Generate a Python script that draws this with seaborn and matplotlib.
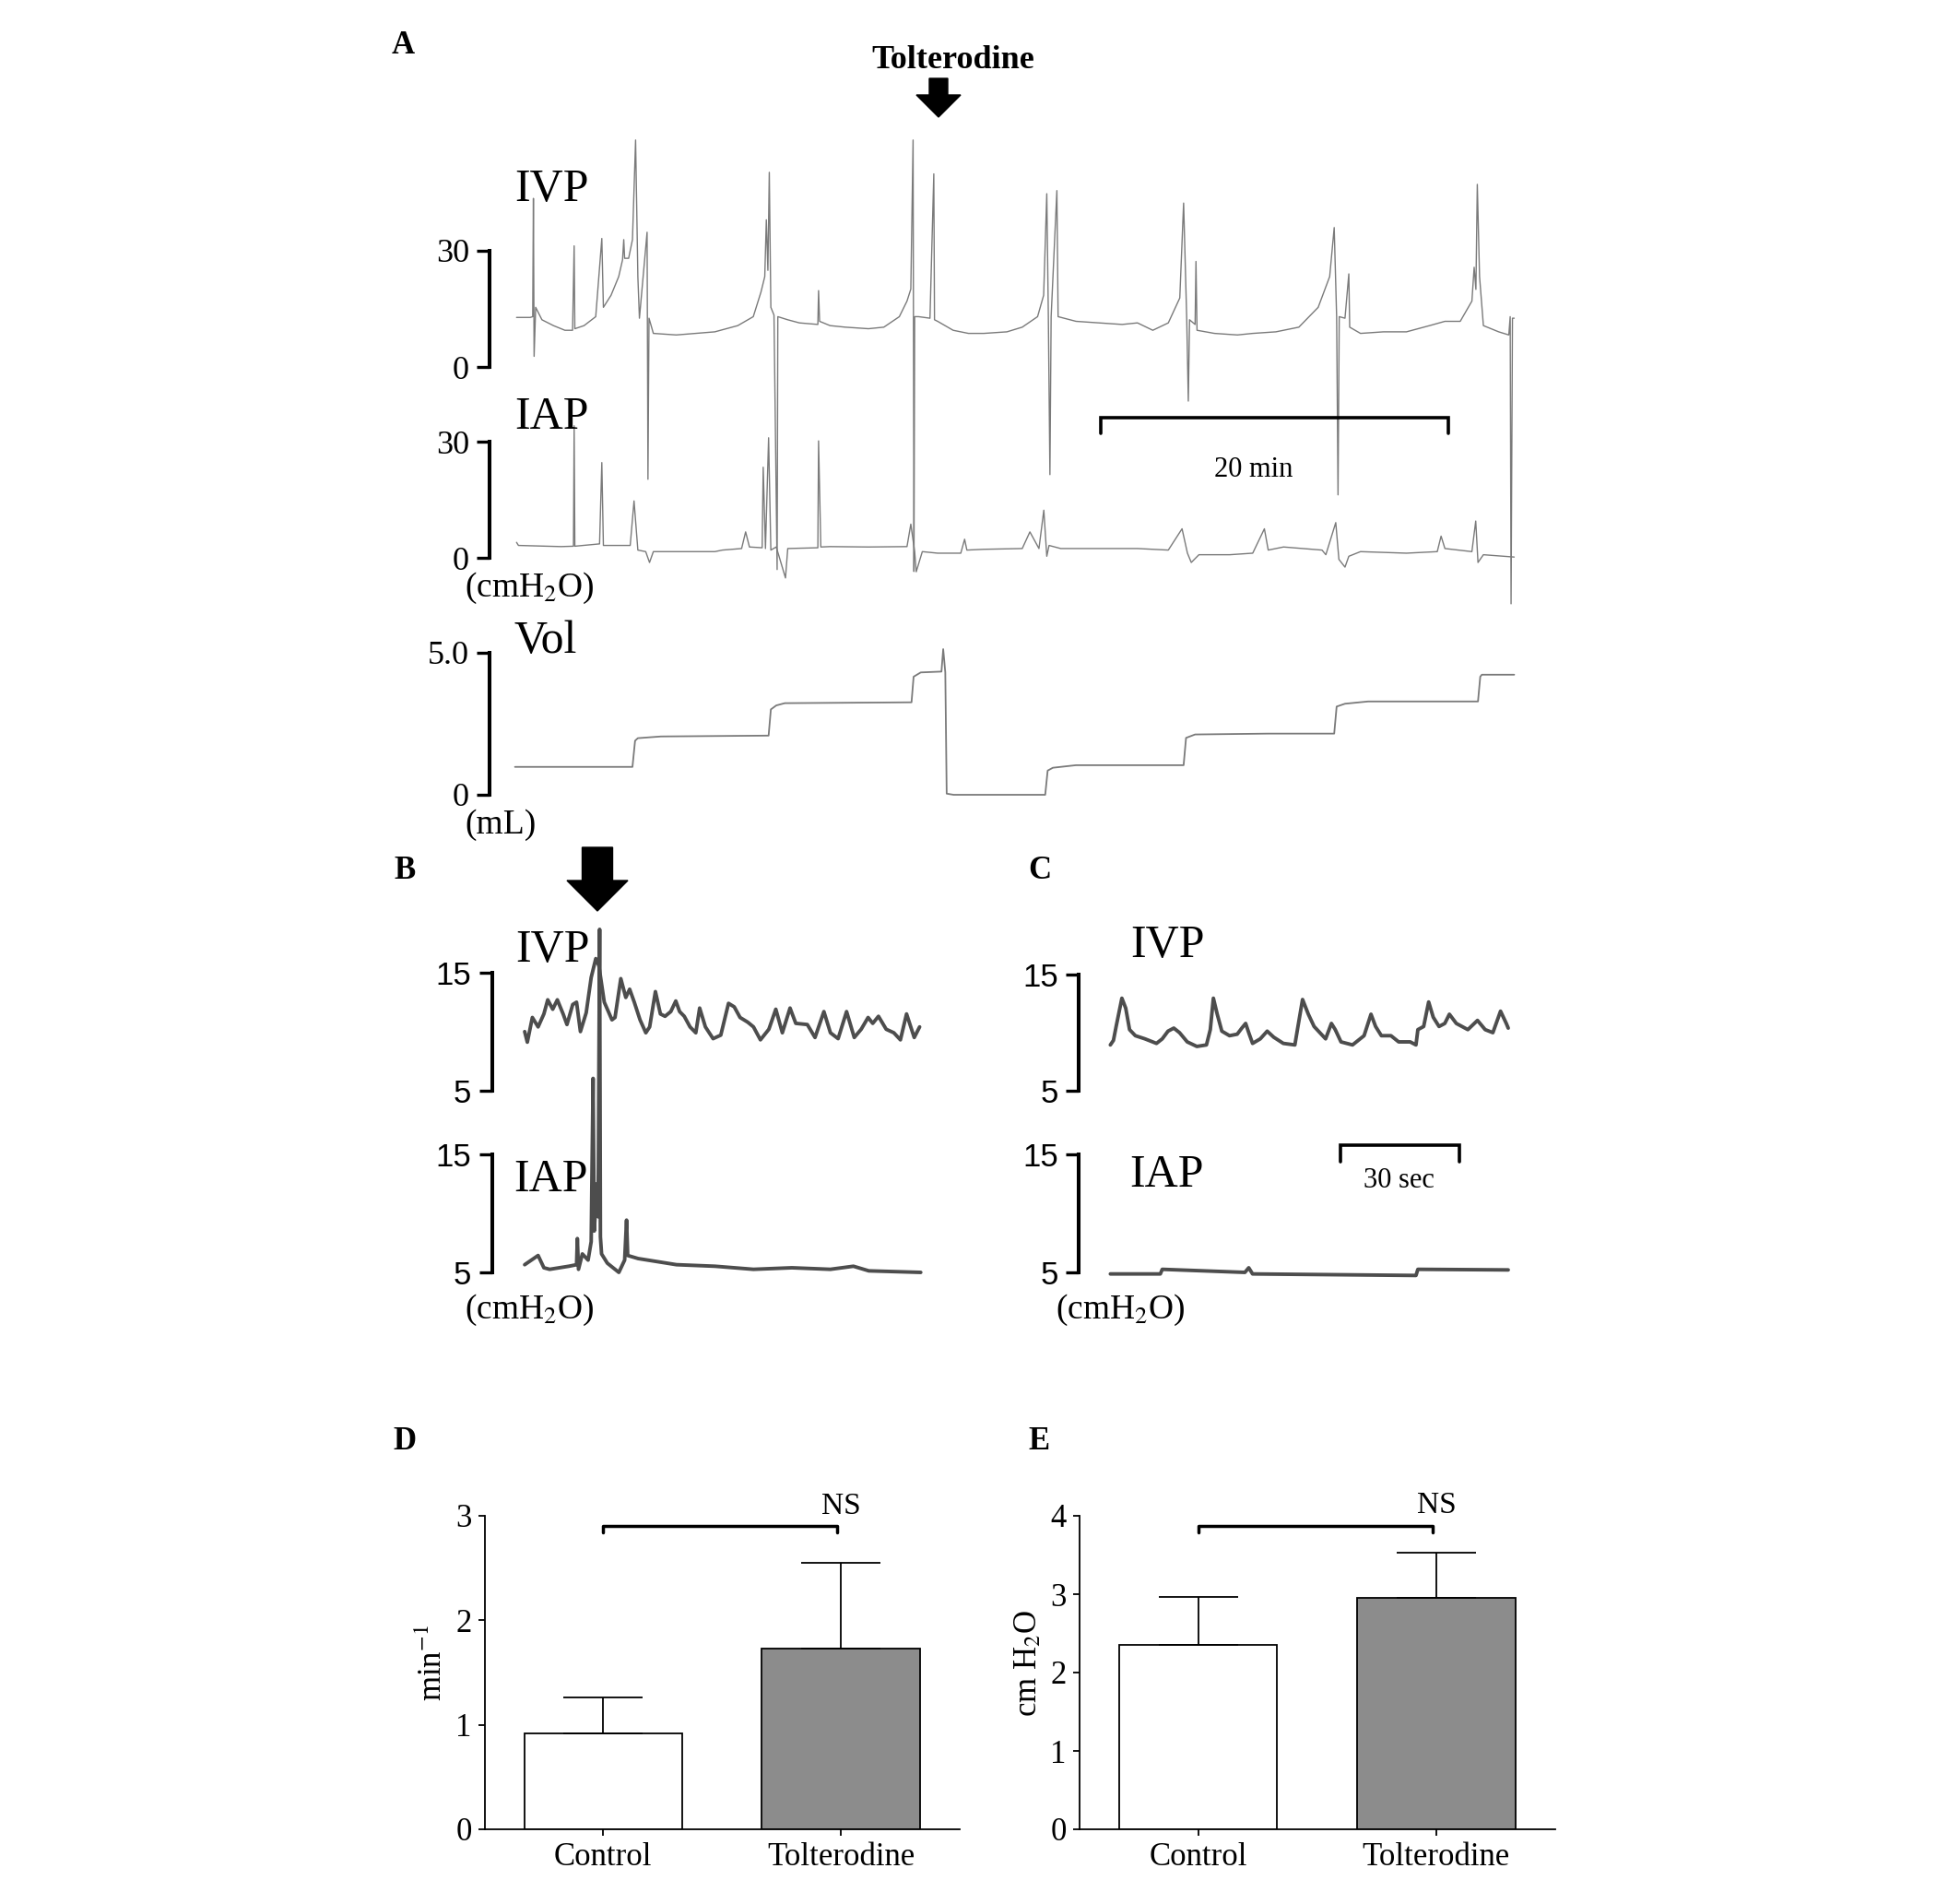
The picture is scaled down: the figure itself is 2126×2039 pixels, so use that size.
import matplotlib
matplotlib.use("Agg")
import matplotlib.pyplot as plt
from matplotlib.patches import Polygon
import seaborn as sns

sns.set_theme(style="ticks")
plt.rcParams["font.family"] = ["Liberation Serif", "DejaVu Serif"]
plt.rcParams["mathtext.fontset"] = "stix"
plt.rcParams["text.color"] = "black"
plt.rcParams["axes.labelcolor"] = "black"
plt.rcParams["xtick.color"] = "black"
plt.rcParams["ytick.color"] = "black"

W, H = 2126, 2039

# ---- Panel A: whole cystometry recording (time in min) ----
ivp_a_t = [0.09, 0.88, 1.02, 1.06, 1.10, 1.19, 1.55, 2.21, 2.87, 3.31, 3.40, 3.44, 3.97, 4.64, 4.99,
           5.08, 5.52, 5.96, 6.18, 6.25, 6.30, 6.53, 6.75, 6.93, 7.06, 7.15, 7.59, 7.64, 7.70, 7.95,
           9.27, 11.48, 12.80, 13.69, 14.13, 14.35, 14.44, 14.53, 14.61, 14.70, 14.88, 15.06, 15.10,
           15.67, 16.34, 17.40, 17.44, 17.50, 18.10, 18.98, 20.31, 21.19, 22.08, 22.52, 22.74, 22.87,
           22.92, 22.96, 23.18, 23.84, 24.06, 24.10, 24.28, 25.17, 26.05, 26.93, 28.26, 29.14, 30.02,
           30.37, 30.55, 30.64, 30.73, 30.80, 31.13, 31.20, 32.23, 33.55, 34.88, 35.76, 36.64, 37.53,
           38.19, 38.41, 38.59, 38.68, 38.75, 39.07, 39.12, 39.18, 40.18, 41.50, 42.38, 43.71, 45.03,
           46.14, 46.80, 47.06, 47.20, 47.28, 47.35, 47.68, 47.90, 47.95, 48.57, 49.89, 51.21, 52.54,
           53.42, 54.30, 54.97, 55.10, 55.20, 55.28, 55.41, 55.63, 56.51, 57.09, 57.17, 57.22, 57.30,
           57.40]
ivp_a_v = [12.8, 12.8, 13.0, 43.4, 2.8, 15.4, 12.2, 10.7, 9.5, 9.5, 31.2, 9.9, 10.7, 13.0, 33.1,
           15.4, 18.5, 23.3, 27.6, 32.8, 28.0, 28.0, 32.8, 58.4, 23.3, 12.6, 34.7, -28.8, 12.6, 8.7,
           8.3, 9.1, 10.7, 13.0, 19.3, 23.3, 37.9, 24.9, 50.1, 15.4, 13.4, -52.0, 13.0,
           12.2, 11.4, 11.0, 19.7, 11.8, 10.7, 10.3, 9.9, 10.3, 13.0, 17.0, 20.1, 58.4,
           -52.5, 13.0, 13.0, 12.6, 49.7, 12.2, 11.8, 9.5, 8.7, 8.7, 9.1, 10.3, 13.0,
           18.5, 44.6, 13.0, -27.6, 13.0, 45.4, 13.0, 11.8, 11.4, 11.0, 11.4, 9.5, 11.4,
           17.8, 42.2, 12.2, -8.7, 12.2, 11.0, 27.2, 9.5, 8.7, 8.3, 8.7, 9.1, 10.3,
           15.4, 23.3, 35.9, 13.0, -32.8, 13.0, 12.6, 24.0, 10.3, 8.7, 9.1, 9.1, 10.7,
           11.8, 11.8, 17.0, 25.7, 20.0, 47.0, 23.3, 10.7, 9.1, 8.3, 13.0, -60.8, 12.6,
           12.6]

iap_a_t = [0.09, 0.20, 2.65, 3.36, 3.40, 3.44, 4.86, 4.99, 5.08, 6.62, 6.84, 7.06, 7.51, 7.73, 7.95,
           11.48, 11.92, 13.02, 13.25, 13.47, 14.20, 14.26, 14.39, 14.57, 14.70, 15.01, 15.54, 15.67,
           17.40, 17.44, 17.57, 18.10, 20.31, 22.52, 22.74, 22.96, 23.05, 23.40, 24.28, 25.61, 25.83,
           25.96, 26.93, 29.14, 29.58, 30.10, 30.38, 30.55, 30.68, 31.35, 33.55, 35.76, 37.53, 38.32,
           38.63, 38.85, 39.29, 41.06, 42.38, 43.05, 43.27, 44.15, 46.36, 46.58, 47.15, 47.33, 47.68,
           47.90, 48.57, 51.21, 52.98, 53.20, 53.42, 54.97, 55.19, 55.32, 55.63, 57.40]
iap_a_v = [4.0, 3.2, 2.9, 3.0, 34.1, 3.0, 3.6, 24.6, 3.2, 3.2, 14.7, 2.0, 1.6, -1.2, 1.6,
           1.6, 2.0, 2.4, 6.7, 2.8, 2.6, 23.4, 2.4, 31.0, 2.0, 2.8, -5.2, 2.4,
           2.6, 30.2, 2.8, 2.9, 2.8, 2.9, 8.7, 1.6, -3.6, 1.6, 1.2, 1.2, 4.8,
           2.0, 2.2, 2.4, 6.7, 2.4, 12.3, 0.4, 3.2, 2.4, 2.4, 2.4, 2.0, 7.5,
           1.2, -1.2, 0.8, 0.8, 1.2, 7.5, 2.0, 2.8, 2.0, 0.8, 9.1, -0.4, -2.4,
           0.4, 1.6, 1.2, 1.6, 5.6, 2.4, 1.6, 9.5, -1.2, 0.8, 0.2]

vol_a_t = [0.0, 6.75, 6.90, 7.06, 8.39, 14.57, 14.70, 15.01, 15.50, 22.78, 22.90, 23.31, 24.50,
           24.60, 24.72, 24.80, 25.20, 30.46, 30.60, 30.90, 32.23, 38.41, 38.55, 39.07, 43.27,
           47.06, 47.20, 47.68, 49.01, 55.32, 55.45, 55.54, 57.40]
vol_a_v = [0.98, 0.98, 1.90, 1.99, 2.05, 2.08, 3.00, 3.14, 3.22, 3.25, 4.15, 4.30, 4.33,
           5.12, 4.30, 0.04, 0.0, 0.0, 0.85, 0.95, 1.04, 1.04, 2.00, 2.12, 2.15,
           2.15, 3.10, 3.20, 3.28, 3.28, 4.15, 4.22, 4.22]

# ---- Panel B: around tolterodine injection (time in s) ----
ivp_b_t = [0.49, 1.16, 2.43, 3.88, 5.34, 6.31, 7.57, 8.73, 10.19, 11.16, 12.61, 13.58, 14.55, 16.01,
           17.27, 18.43, 19.21, 20.57, 22.51, 23.28, 24.74, 26.00, 26.97, 28.14, 29.59, 31.05, 32.02,
           33.47, 34.73, 35.90, 37.35, 38.61, 39.58, 40.75, 42.20, 43.66, 44.63, 46.08, 48.02, 49.96,
           51.91, 53.36, 54.82, 56.76, 58.21, 59.96, 62.09, 63.84, 65.49, 67.43, 68.88, 71.79, 73.73,
           75.97, 77.62, 79.56, 81.69, 83.63, 85.38, 87.12, 88.29, 89.74, 91.68, 93.62, 95.27, 96.82,
           98.76, 100.12]
ivp_b_v = [10.0, 9.1, 11.2, 10.4, 11.5, 12.7, 11.9, 12.7, 11.5, 10.6, 12.3, 12.5, 10.0, 11.6,
           14.6, 16.2, 15.6, 12.5, 11.0, 11.2, 14.5, 12.9, 13.6, 12.5, 11.0, 9.9, 10.4,
           13.4, 11.5, 11.3, 11.7, 12.6, 11.7, 11.3, 10.4, 9.9, 12.0, 10.4, 9.4, 9.7,
           12.4, 12.1, 11.2, 10.8, 10.4, 9.3, 10.2, 11.9, 9.9, 12.0, 10.7, 10.6, 9.5,
           11.7, 9.9, 9.4, 11.7, 9.5, 10.2, 11.2, 10.7, 11.3, 10.2, 9.9, 9.3, 11.5,
           9.5, 10.4]

iap_b_t = [0.49, 3.88, 5.34, 6.79, 11.64, 13.58, 13.78, 14.07, 15.04, 16.49, 17.27, 17.75, 18.04,
           18.72, 19.01, 19.40, 19.60, 19.89, 21.34, 24.25, 25.71, 26.19, 26.48, 29.10, 38.80,
           48.50, 58.20, 67.90, 77.60, 83.42, 87.30, 100.40]
iap_b_v = [5.65, 6.43, 5.39, 5.26, 5.52, 5.65, 7.86, 5.26, 6.56, 6.04, 7.60, 21.4, 8.5,
           12.5, 9.7, 34.0, 8.0, 6.56, 5.78, 5.0, 6.04, 9.42, 6.43, 6.17, 5.65,
           5.52, 5.26, 5.39, 5.26, 5.52, 5.13, 5.0]

# ---- Panel C: after tolterodine (time in s) ----
ivp_c_t = [0.0, 0.78, 1.46, 2.91, 3.88, 4.85, 6.31, 8.73, 11.64, 13.10, 14.55, 16.01, 17.46, 19.40,
           21.83, 24.25, 25.22, 26.00, 26.97, 28.13, 30.07, 32.01, 33.17, 34.14, 34.92, 35.89, 37.83,
           39.58, 41.23, 43.65, 46.56, 47.34, 48.50, 49.96, 51.41, 54.32, 55.78, 56.75, 58.20, 61.11,
           64.02, 65.77, 66.93, 68.39, 70.81, 72.75, 75.66, 77.12, 77.60, 79.06, 80.32, 81.48, 82.94,
           84.39, 85.55, 87.30, 90.21, 92.64, 94.58, 96.52, 98.46, 99.91, 100.40]
ivp_c_v = [8.95, 9.34, 10.53, 12.95, 12.1, 10.26, 9.74, 9.47, 9.08, 9.47, 10.13, 10.39, 10.0, 9.21,
           8.82, 8.95, 10.26, 12.95, 11.58, 10.13, 9.74, 9.87, 10.39, 10.79, 10.0, 9.08, 9.47,
           10.13, 9.61, 9.08, 8.95, 10.53, 12.84, 11.58, 10.53, 9.47, 10.79, 10.26, 9.21, 8.95,
           9.74, 11.58, 10.53, 9.74, 9.74, 9.21, 9.21, 8.95, 10.26, 10.53, 12.63, 11.32, 10.53,
           10.79, 11.58, 10.79, 10.26, 11.05, 10.26, 10.0, 11.84, 10.79, 10.39]

iap_c_t = [0.0, 12.61, 13.10, 33.95, 34.92, 35.89, 77.12, 77.60, 100.40]
iap_c_v = [4.87, 4.87, 5.26, 5.0, 5.39, 4.87, 4.74, 5.26, 5.21]

# ---- Panels D / E: summary bars (mean + SD) ----
groups = ["Control", "Tolterodine"]
freq_mean = [0.92, 1.73]
freq_sd = [0.34, 0.82]
amp_mean = [2.35, 2.95]
amp_sd = [0.62, 0.58]
bar_colors = ["white", "#8c8c8c"]


def px_rect(x0, y0, x1, y1):
    return [x0 / W, 1 - y1 / H, (x1 - x0) / W, (y1 - y0) / H]


def fig_text(fig, x, y, s, **kw):
    fig.text(x / W, 1 - y / H, s, va="baseline", **kw)


def down_arrow(fig, tip_x, tip_y, shaft_w, shaft_len, head_w, head_len):
    neck = tip_y - head_len
    top = neck - shaft_len
    pts = [(tip_x - shaft_w / 2, top), (tip_x + shaft_w / 2, top), (tip_x + shaft_w / 2, neck),
           (tip_x + head_w / 2, neck), (tip_x, tip_y), (tip_x - head_w / 2, neck),
           (tip_x - shaft_w / 2, neck)]
    fig.add_artist(Polygon([(x / W, 1 - y / H) for x, y in pts], closed=True,
                           color="black", transform=fig.transFigure))


def trace_axes(fig, rect, xlim, ylim, ticks, labels, sans=False):
    ax = fig.add_axes(px_rect(*rect))
    ax.patch.set_alpha(0)
    for s in ["top", "right", "bottom"]:
        ax.spines[s].set_visible(False)
    ax.spines["left"].set_linewidth(2.9)
    ax.spines["left"].set_color("black")
    return ax, xlim, ylim, ticks, labels, sans


def finish_trace(ax, xlim, ylim, ticks, labels, sans):
    ax.set_xlim(xlim)
    ax.set_ylim(ylim)
    ax.set_xticks([])
    ax.set_yticks(ticks)
    ax.set_yticklabels(labels)
    ax.set_xlabel("")
    ax.set_ylabel("")
    ax.tick_params(axis="y", direction="out", length=10, width=2.4, pad=6,
                   labelsize=25 if sans else 26, color="black", labelcolor="black")
    if sans:
        for lab in ax.get_yticklabels():
            lab.set_fontfamily(["Liberation Sans", "DejaVu Sans"])
    for line in ax.lines:
        line.set_clip_on(False)


def plot_trace(spec, t, v, color, lw):
    ax = spec[0]
    sns.lineplot(x=t, y=v, ax=ax, sort=False, estimator=None, color=color, linewidth=lw)
    finish_trace(*spec)
    return ax


fig = plt.figure(figsize=(W / 100, H / 100), dpi=100)
fig.patch.set_facecolor("white")

# Panel A
grey_a = "#7a7a7a"
a_ivp = plot_trace(trace_axes(fig, (531, 271.7, 1650, 398.3), (-1.46, 57.8), (0, 30), [0, 30], ["0", "30"]),
                   ivp_a_t, ivp_a_v, grey_a, 1.0)
a_iap = plot_trace(trace_axes(fig, (531, 479, 1650, 605), (-1.46, 57.8), (0, 30), [0, 30], ["0", "30"]),
                   iap_a_t, iap_a_v, grey_a, 1.0)
a_vol = plot_trace(trace_axes(fig, (531, 707.7, 1650, 862), (-1.46, 57.8), (0, 5), [0, 5], ["0", "5.0"]),
                   vol_a_t, vol_a_v, grey_a, 1.3)
# 20 min scale bar
a_iap.plot([33.64, 33.64, 53.6, 53.6], [32.1, 36.2, 36.2, 32.1], color="black", lw=2.6,
           clip_on=False, solid_joinstyle="miter")

# Panel B
grey_b = "#4d4d4d"
b_ivp = plot_trace(trace_axes(fig, (533.5, 1055, 1005, 1182.7), (-7.79, 101.86), (5, 15), [5, 15], ["5", "15"], sans=True),
                   ivp_b_t, ivp_b_v, grey_b, 2.8)
b_iap = plot_trace(trace_axes(fig, (533.5, 1251.7, 1005, 1380), (-7.79, 101.86), (5, 15), [5, 15], ["5", "15"], sans=True),
                   iap_b_t, iap_b_v, grey_b, 2.8)

# Panel C
c_ivp = plot_trace(trace_axes(fig, (1170, 1056.7, 1645, 1183.3), (-8.0, 102.5), (5, 15), [5, 15], ["5", "15"], sans=True),
                   ivp_c_t, ivp_c_v, grey_b, 2.8)
c_iap = plot_trace(trace_axes(fig, (1170, 1251.7, 1645, 1380), (-8.0, 102.5), (5, 15), [5, 15], ["5", "15"], sans=True),
                   iap_c_t, iap_c_v, grey_b, 2.8)
# 30 sec scale bar
c_iap.plot([58.0, 58.0, 88.1, 88.1], [14.35, 15.76, 15.76, 14.35], color="black", lw=2.6,
           clip_on=False, solid_joinstyle="miter")


# Panels D and E
def bar_panel(rect, means, sds, ymax, ylabel, ns_y, bracket_y, bracket_tick):
    ax = fig.add_axes(px_rect(*rect))
    ax.patch.set_alpha(0)
    sns.barplot(x=groups, y=means, hue=groups, palette=bar_colors, legend=False,
                width=0.665, edgecolor="black", linewidth=1.3, errorbar=None, ax=ax)
    ax.errorbar(x=[0, 1], y=means, yerr=[[0, 0], sds], fmt="none", ecolor="black",
                elinewidth=1.3, capsize=31, capthick=1.3, zorder=3)
    ax.plot([0, 0, 0.985, 0.985], [bracket_tick, bracket_y, bracket_y, bracket_tick],
            color="black", lw=2.5, clip_on=False)
    ax.text(1.0, ns_y, "NS", ha="center", va="baseline", fontsize=24, color="black")
    ax.set_xlim(-0.5, 1.5)
    ax.set_ylim(0, ymax)
    ax.set_yticks(list(range(ymax + 1)))
    sns.despine(ax=ax)
    for s in ["left", "bottom"]:
        ax.spines[s].set_linewidth(1.3)
        ax.spines[s].set_color("black")
    ax.tick_params(axis="both", direction="out", length=5, width=1.3, labelsize=25,
                   color="black", labelcolor="black", pad=5)
    ax.set_xlabel("")
    ax.set_ylabel(ylabel, fontsize=25, labelpad=5, color="black")
    ax.yaxis.label.set_y(0.53)
    return ax


d_ax = bar_panel((525.5, 1644, 1041, 1984), freq_mean, freq_sd, 3, r"min$^{-1}$", 3.02, 2.90, 2.84)
e_ax = bar_panel((1170.5, 1644, 1687, 1984), amp_mean, amp_sd, 4, r"cm H$_2$O", 4.03, 3.87, 3.79)

# Labels and annotations
bold = dict(fontsize=25, fontweight="bold")
fig_text(fig, 425, 58, "A", **bold)
fig_text(fig, 427, 953, "B", **bold)
fig_text(fig, 1115, 953, "C", **bold)
fig_text(fig, 426, 1572, "D", **bold)
fig_text(fig, 1115, 1572, "E", **bold)
fig_text(fig, 1034, 74, "Tolterodine", ha="center", fontsize=26, fontweight="bold")
down_arrow(fig, 1018, 127, 20, 18, 48, 24)
down_arrow(fig, 648, 988, 33, 36, 66, 33)

trace_lab = dict(fontsize=36)
fig_text(fig, 558, 218, "IVP", **trace_lab)
fig_text(fig, 558, 465, "IAP", **trace_lab)
fig_text(fig, 558, 708, "Vol", **trace_lab)
fig_text(fig, 559, 1043, "IVP", **trace_lab)
fig_text(fig, 557, 1292, "IAP", **trace_lab)
fig_text(fig, 1226, 1038, "IVP", **trace_lab)
fig_text(fig, 1225, 1287, "IAP", **trace_lab)

unit = dict(fontsize=27)
fig_text(fig, 504, 647, r"(cmH$_2$O)", **unit)
fig_text(fig, 504, 904, "(mL)", **unit)
fig_text(fig, 504, 1430, r"(cmH$_2$O)", **unit)
fig_text(fig, 1145, 1430, r"(cmH$_2$O)", **unit)
fig_text(fig, 1360, 517, "20 min", ha="center", fontsize=22)
fig_text(fig, 1517, 1288, "30 sec", ha="center", fontsize=22)

fig.savefig("out.png", dpi=100, facecolor="white")
